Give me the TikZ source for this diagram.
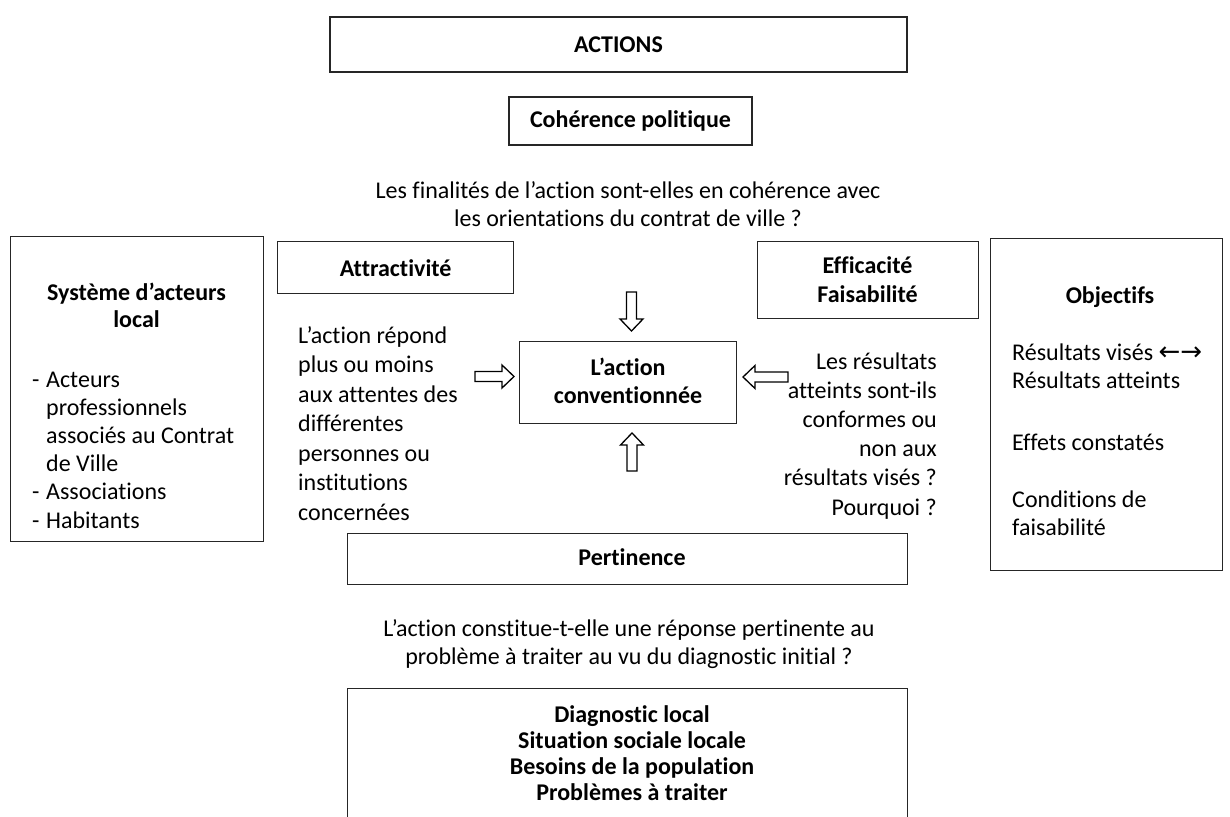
\documentclass[tikz,border=0pt]{standalone}
\usepackage{fontspec}
\setmainfont{Carlito}[Ligatures=CommonOff]
\newfontfamily\symfont{DejaVu Sans}
\begin{document}
\begin{tikzpicture}[x=1pt,y=-1pt,
  box/.style={draw=black!85, line width=1.4pt, fill=white, inner sep=0pt, align=center,
    font=\fontsize{24}{29}\selectfont\bfseries},
  txt/.style={inner sep=0pt, font=\fontsize{24}{29.4}\selectfont},
  btxt/.style={inner sep=0pt, font=\fontsize{24}{27}\selectfont\bfseries},
  blockarr/.style={draw=black, line width=1.3pt, fill=white, line join=miter}
]
\useasboundingbox (0,0) rectangle (1230,816);
% top
\node[box, minimum width=577pt, minimum height=55pt] (actions) at (618.5,44.5) {ACTIONS};
\node[box, minimum width=243pt, minimum height=48pt] (coh) at (630.5,121) {Cohérence politique};
\node[txt, anchor=base, align=center, font=\fontsize{24}{27.5}\selectfont] (q1) at (628,226) {Les finalités de l’action sont-elles en cohérence avec\\les orientations du contrat de ville ?};
% left box
\node[box, minimum width=253pt, minimum height=305pt, anchor=north west] (sys) at (10,236) {};
\node[btxt, anchor=base, align=center] (systitle) at (136.5,327) {Système d’acteurs\\local};
\node[txt, anchor=base west, align=left, font=\fontsize{24}{28.2}\selectfont] (dashes) at (32,528) {-\\\\\\\\-\\-};
\node[txt, anchor=base west, align=left, font=\fontsize{24}{28.2}\selectfont] (list) at (46,528) {Acteurs\\professionnels\\associés au Contrat\\de Ville\\Associations\\Habitants};
% right box
\node[box, minimum width=232pt, minimum height=332pt, anchor=north west] (obj) at (990,238) {};
\node[btxt, anchor=base] (objtitle) at (1110,303) {Objectifs};
\node[txt, anchor=base west, align=left, font=\fontsize{24}{28}\selectfont] (o1) at (1012,388) {Résultats visés {\symfont\fontsize{26}{26}\selectfont ←→}\\Résultats atteints};
\node[txt, anchor=base west] (o2) at (1012,450) {Effets constatés};
\node[txt, anchor=base west, align=left, font=\fontsize{24}{28}\selectfont] (o3) at (1012,535) {Conditions de\\faisabilité};
% criteria boxes
\node[box, minimum width=236pt, minimum height=52pt, anchor=north west] (attr) at (277,241) {Attractivité};
\node[box, minimum width=221pt, minimum height=77pt, anchor=north west] (eff) at (757,241) {};
\node[btxt, anchor=base, align=center, font=\fontsize{24}{29}\selectfont\bfseries] (efftext) at (867.5,302) {Efficacité\\Faisabilité};
% center
\node[box, minimum width=217pt, minimum height=82pt, anchor=north west] (act) at (519,341) {};
\node[btxt, anchor=base, align=center, font=\fontsize{24}{28}\selectfont\bfseries] (acttext) at (628,403) {L’action\\conventionnée};
\node[txt, anchor=base west, align=left, font=\fontsize{24}{29.5}\selectfont] (ltext) at (298,520) {L’action répond\\plus ou moins\\aux attentes des\\différentes\\personnes ou\\institutions\\concernées};
\node[txt, anchor=base east, align=right, font=\fontsize{24}{29.2}\selectfont] (rtext) at (937,515) {Les résultats\\atteints sont-ils\\conformes ou\\non aux\\résultats visés ?\\Pourquoi ?};
% block arrows
\draw[blockarr] (626.5,292) -- (636.5,292) -- (636.5,319) -- (643,319) -- (631.5,331) -- (620,319) -- (626.5,319) -- cycle;
\draw[blockarr] (632,433) -- (643.5,445) -- (637,445) -- (637,471) -- (627,471) -- (627,445) -- (620.5,445) -- cycle;
\draw[blockarr] (475,371.5) -- (502,371.5) -- (502,365) -- (514,376.5) -- (502,388) -- (502,381.5) -- (475,381.5) -- cycle;
\draw[blockarr] (788,372) -- (755,372) -- (755,365.5) -- (743,377) -- (755,388.5) -- (755,382) -- (788,382) -- cycle;
% bottom
\node[box, minimum width=560pt, minimum height=51pt, anchor=north west] (pert) at (347,533) {};
\node[btxt, anchor=base] (perttext) at (632,565) {Pertinence};
\node[txt, anchor=base, align=center, font=\fontsize{24}{28}\selectfont] (q2) at (629,664) {L’action constitue-t-elle une réponse pertinente au\\problème à traiter au vu du diagnostic initial ?};
\node[box, minimum width=560pt, minimum height=150pt, anchor=north west] (diag) at (347,688) {};
\node[btxt, anchor=base, align=center, font=\fontsize{24}{26}\selectfont\bfseries] (diagtext) at (632,800) {Diagnostic local\\Situation sociale locale\\Besoins de la population\\Problèmes à traiter};
\end{tikzpicture}
\end{document}
